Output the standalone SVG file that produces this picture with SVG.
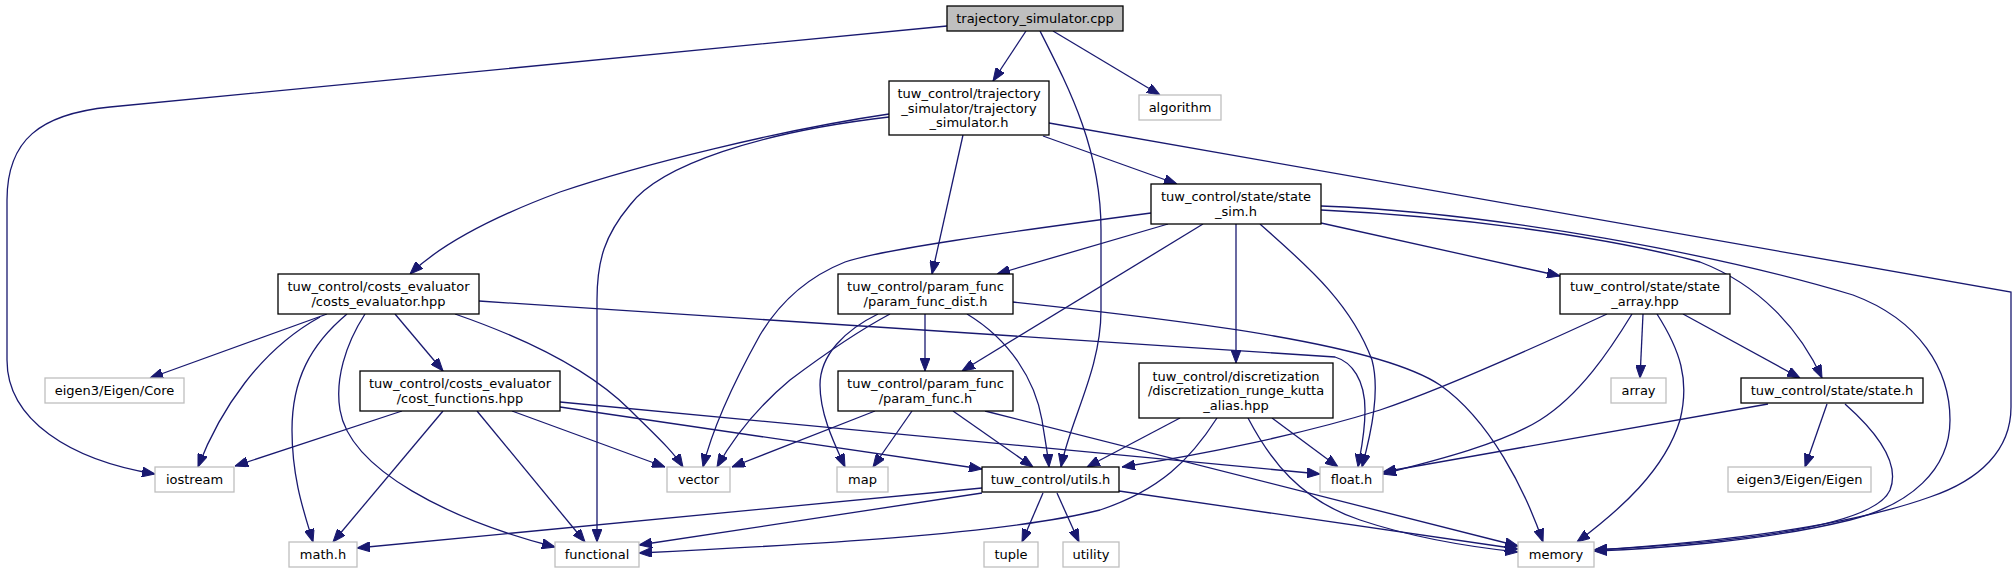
<svg xmlns="http://www.w3.org/2000/svg" width="2016" height="573" viewBox="0 0 2016 573">
<style>
.n rect{fill:#fff;stroke:#000;stroke-width:1.3}
.g rect{fill:#fff;stroke:#bfbfbf;stroke-width:1.3}
.r rect{fill:#bfbfbf;stroke:#000;stroke-width:1.3}
text{font-family:"DejaVu Sans",Verdana,sans-serif;font-size:13px;text-anchor:middle;fill:#000}
#edges path{fill:none;stroke:#191970;stroke-width:1.3;marker-end:url(#a)}
</style>
<defs>
<marker id="a" markerUnits="userSpaceOnUse" viewBox="0 0 13 10" refX="13" refY="5" markerWidth="13" markerHeight="10" orient="auto">
<path d="M0,0 L13,5 L0,10 z" fill="#191970" stroke="#191970" stroke-width="1"/>
</marker>
</defs>
<rect width="2016" height="573" fill="#fff"/>
<g id="edges">
<path d="M947,26 L110,107 C40,114 7,140 7,200 L7,360 C7,420 70,460 155,474"/>
<path d="M1026,31 L993,81"/>
<path d="M1053,31 L1160,95"/>
<path d="M1040,31 C1070,90 1101,150 1101,230 L1101,310 C1101,370 1070,420 1061,467"/>
<path d="M889,114 C780,130 640,165 560,192 C490,218 440,245 410,274"/>
<path d="M889,117 C760,132 660,165 630,205 C605,235 597,260 597,300 L597,542"/>
<path d="M963,135 L932,274"/>
<path d="M1043,136 L1177,184"/>
<path d="M1049,123 L2011,292 L2011,407 C2011,450 1980,480 1930,497 C1860,522 1750,540 1594,550"/>
<path d="M1151,213 C1000,233 880,250 845,262 C800,280 775,310 760,335 C735,380 712,430 703,467"/>
<path d="M1168,224 L997,274"/>
<path d="M1203,224 L962,371"/>
<path d="M1236,224 L1236,363"/>
<path d="M1260,224 C1300,260 1350,300 1372,360 C1380,390 1372,430 1362,467"/>
<path d="M1321,223 L1560,276"/>
<path d="M1321,210 C1450,216 1600,235 1700,262 C1760,285 1800,330 1822,378"/>
<path d="M1321,206 C1500,213 1720,255 1853,295 C1920,320 1950,370 1950,420 C1950,470 1910,505 1850,520 C1760,542 1650,549 1594,551"/>
<path d="M327,314 L150,378"/>
<path d="M320,317 C260,350 220,410 198,467"/>
<path d="M347,314 C310,345 292,380 292,430 C292,480 305,515 313,542"/>
<path d="M365,314 C345,345 335,380 340,410 C350,470 450,520 555,547"/>
<path d="M395,314 L443,371"/>
<path d="M455,314 C530,340 590,370 630,410 C655,435 672,450 683,467"/>
<path d="M479,301 L1335,357 C1352,362 1365,380 1365,410 C1365,435 1360,455 1358,467"/>
<path d="M402,411 L235,466"/>
<path d="M443,411 L333,542"/>
<path d="M477,411 L585,542"/>
<path d="M512,411 L665,467"/>
<path d="M560,402 L1320,474"/>
<path d="M560,407 L982,469"/>
<path d="M890,314 C860,330 830,350 790,380 C760,405 735,435 717,467"/>
<path d="M878,314 C845,330 820,355 820,385 C820,415 835,445 845,467"/>
<path d="M925,314 L925,371"/>
<path d="M967,314 C1010,340 1035,380 1042,420 C1045,440 1048,455 1049,467"/>
<path d="M1012,302 C1200,322 1380,345 1440,385 C1490,420 1525,490 1543,542"/>
<path d="M875,411 L732,467"/>
<path d="M912,411 L873,467"/>
<path d="M953,411 L1033,467"/>
<path d="M985,411 L1518,546"/>
<path d="M1180,418 L1087,467"/>
<path d="M1217,418 C1190,460 1160,490 1100,510 C1000,535 800,545 639,553"/>
<path d="M1248,418 C1270,460 1300,500 1360,520 C1420,540 1480,548 1518,552"/>
<path d="M1272,418 L1338,467"/>
<path d="M1043,493 L1022,542"/>
<path d="M1057,493 L1079,542"/>
<path d="M1119,491 L1518,549"/>
<path d="M982,488 L357,548"/>
<path d="M982,493 L639,545"/>
<path d="M1607,314 C1540,345 1440,390 1380,410 C1300,435 1200,455 1122,467"/>
<path d="M1632,314 C1610,350 1580,395 1540,420 C1500,445 1430,462 1383,474"/>
<path d="M1643,314 L1640,378"/>
<path d="M1657,314 C1680,350 1690,380 1680,420 C1665,470 1620,510 1577,542"/>
<path d="M1683,314 L1800,378"/>
<path d="M1768,404 L1383,472"/>
<path d="M1827,404 L1805,467"/>
<path d="M1845,404 C1880,435 1900,465 1890,490 C1875,525 1750,542 1594,550"/>
</g>
<g id="n_cpp" class="r"><rect x="947" y="6" width="176" height="25"/><text x="1035" y="23">trajectory_simulator.cpp</text></g>
<g id="n_traj" class="n"><rect x="889" y="81" width="160" height="54"/><text x="969" y="98">tuw_control/trajectory</text><text x="969" y="112.5">_simulator/trajectory</text><text x="969" y="127">_simulator.h</text></g>
<g id="n_algorithm" class="g"><rect x="1139" y="95" width="82" height="25"/><text x="1180" y="112">algorithm</text></g>
<g id="n_state_sim" class="n"><rect x="1151" y="184" width="170" height="40"/><text x="1236" y="201.3">tuw_control/state/state</text><text x="1236" y="215.8">_sim.h</text></g>
<g id="n_costs_eval" class="n"><rect x="278" y="274" width="201" height="40"/><text x="378.5" y="291.3">tuw_control/costs_evaluator</text><text x="378.5" y="305.8">/costs_evaluator.hpp</text></g>
<g id="n_pf_dist" class="n"><rect x="838" y="274" width="175" height="40"/><text x="925.5" y="291.3">tuw_control/param_func</text><text x="925.5" y="305.8">/param_func_dist.h</text></g>
<g id="n_state_array" class="n"><rect x="1560" y="274" width="170" height="40"/><text x="1645" y="291.3">tuw_control/state/state</text><text x="1645" y="305.8">_array.hpp</text></g>
<g id="n_eigen_core" class="g"><rect x="45" y="378" width="139" height="25"/><text x="114.5" y="395">eigen3/Eigen/Core</text></g>
<g id="n_cost_funcs" class="n"><rect x="360" y="371" width="200" height="40"/><text x="460" y="388.3">tuw_control/costs_evaluator</text><text x="460" y="402.8">/cost_functions.hpp</text></g>
<g id="n_pf" class="n"><rect x="838" y="371" width="175" height="40"/><text x="925.5" y="388.3">tuw_control/param_func</text><text x="925.5" y="402.8">/param_func.h</text></g>
<g id="n_discr" class="n"><rect x="1139" y="363" width="194" height="55"/><text x="1236" y="380.5">tuw_control/discretization</text><text x="1236" y="395">/discretization_runge_kutta</text><text x="1236" y="409.5">_alias.hpp</text></g>
<g id="n_array" class="g"><rect x="1611" y="378" width="55" height="25"/><text x="1638.5" y="395">array</text></g>
<g id="n_state" class="n"><rect x="1741" y="378" width="182" height="25"/><text x="1832" y="395">tuw_control/state/state.h</text></g>
<g id="n_iostream" class="g"><rect x="155" y="467" width="79" height="25"/><text x="194.5" y="484">iostream</text></g>
<g id="n_vector" class="g"><rect x="667" y="467" width="63" height="25"/><text x="698.5" y="484">vector</text></g>
<g id="n_map" class="g"><rect x="837" y="467" width="51" height="25"/><text x="862.5" y="484">map</text></g>
<g id="n_utils" class="n"><rect x="982" y="467" width="137" height="25"/><text x="1050.5" y="484">tuw_control/utils.h</text></g>
<g id="n_float" class="g"><rect x="1320" y="467" width="63" height="25"/><text x="1351.5" y="484">float.h</text></g>
<g id="n_eigen" class="g"><rect x="1728" y="467" width="143" height="25"/><text x="1799.5" y="484">eigen3/Eigen/Eigen</text></g>
<g id="n_math" class="g"><rect x="289" y="542" width="68" height="25"/><text x="323" y="559">math.h</text></g>
<g id="n_functional" class="g"><rect x="555" y="542" width="84" height="25"/><text x="597" y="559">functional</text></g>
<g id="n_tuple" class="g"><rect x="984" y="542" width="54" height="25"/><text x="1011" y="559">tuple</text></g>
<g id="n_utility" class="g"><rect x="1063" y="542" width="56" height="25"/><text x="1091" y="559">utility</text></g>
<g id="n_memory" class="g"><rect x="1518" y="542" width="76" height="25"/><text x="1556" y="559">memory</text></g>
</svg>
